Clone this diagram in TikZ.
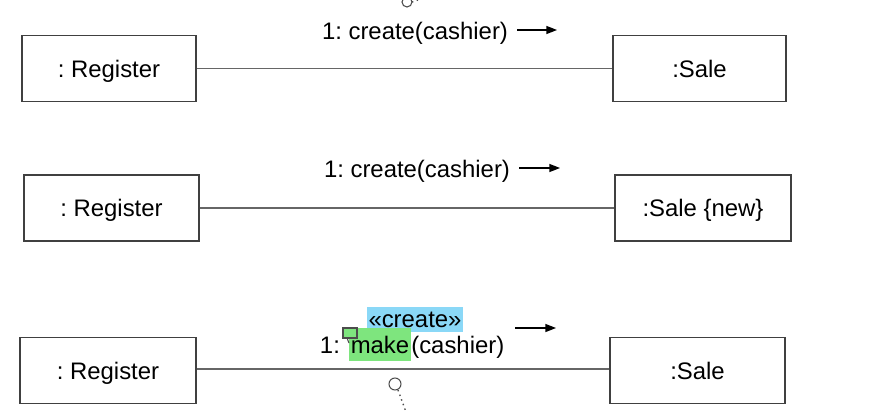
\documentclass[tikz,border=0pt]{standalone}
\usepackage{fontspec}
\setmainfont{Liberation Sans}
\usetikzlibrary{arrows.meta,positioning}
\frenchspacing

\definecolor{stereoblue}{HTML}{8AD8F7}
\definecolor{makegreen}{HTML}{7EE57E}

\tikzset{
    obj/.style={draw=black!75, line width=0.8pt, minimum height=1.33cm, text depth=0pt},
    link/.style={draw=black!60, line width=0.8pt},
    msg/.style={-{Triangle[length=6pt,width=4.5pt]}, line width=0.8pt},
    lbl/.style={inner sep=0pt, font=\fontsize{13.6}{16}\selectfont},
    marker/.style={draw=black!70, line width=0.6pt, fill=white}
}

\begin{document}
\begin{tikzpicture}[x=0.02cm, y=-0.02cm, font=\fontsize{13.6}{16}\selectfont]
    % units of pixels, y grows downwards
    \useasboundingbox (0,0) rectangle (875,412);

    % Row 1: plain create message
    \node[obj, minimum width=3.48cm] (reg1) at (109,68.5) {: Register};
    \node[obj, minimum width=3.46cm] (sale1) at (699.5,68.5) {:Sale};
    \draw[link] (reg1) -- (sale1);
    \node[lbl] (msg1) at (415,33) {1: create(cashier)};
    \coordinate (a1s) at (517,30);
    \coordinate (a1e) at (557,30);
    \draw[msg] (a1s) -- (a1e);

    % Row 2: created object tagged {new}
    \node[obj, minimum width=3.5cm, minimum height=1.32cm] (reg2) at (111.5,208) {: Register};
    \node[obj, minimum width=3.52cm, minimum height=1.32cm] (sale2) at (703,208) {:Sale {\{}new{\}}};
    \draw[link] (reg2) -- (sale2);
    \node[lbl] (msg2) at (417,171) {1: create(cashier)};
    \coordinate (a2s) at (519,168);
    \coordinate (a2e) at (560,168);
    \draw[msg] (a2s) -- (a2e);

    % Row 3: stereotyped make message
    \node[obj, minimum width=3.52cm] (reg3) at (108,370.5) {: Register};
    \node[obj, minimum width=3.5cm] (sale3) at (697.5,370.5) {:Sale};
    \draw[link] (reg3.east |- 0,369) -- (sale3.west |- 0,369);
    \node[lbl, fill=stereoblue, inner xsep=0.9pt, minimum height=14.2pt] (stereo) at (415,319.5) {«create»};
    \node[lbl, fill=makegreen, inner xsep=0.8pt, minimum height=18.8pt] (make) at (380,344.5) {make};
    \node[lbl, anchor=base east] (num3) at (make.base west) {1:\hspace*{5pt}};
    \node[lbl, anchor=base west] (arg3) at (make.base east) {(cashier)};
    \coordinate (a3s) at (515,328);
    \coordinate (a3e) at (556,328);
    \draw[msg] (a3s) -- (a3e);

    % comment markers
    \draw[marker] (407,2) circle (5);
    \draw[black!70, dotted, line width=0.8pt] (412,2) -- (418,0);
    \draw[black!70, line width=0.6pt, fill=makegreen] (343,328) rectangle (357,338);
    \draw[black!70, line width=0.6pt] (347,338) -- (349,343);
    \draw[marker] (395,384) circle (6);
    \draw[black!70, dotted, line width=0.8pt] (398,390) -- (406,412);
\end{tikzpicture}
\end{document}
